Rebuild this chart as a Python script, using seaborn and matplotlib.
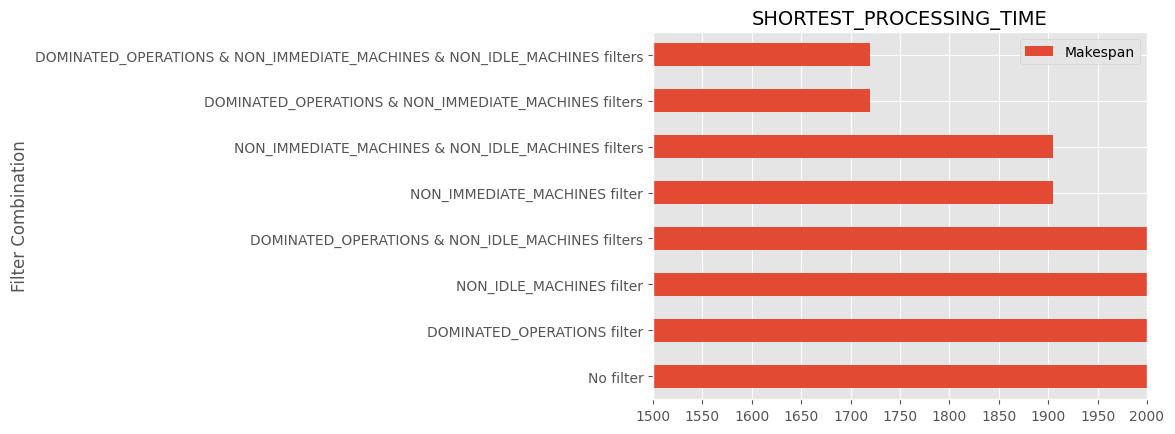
import matplotlib
matplotlib.use("Agg")
import matplotlib.pyplot as plt
import seaborn as sns
import pandas as pd

categories = [
    "DOMINATED_OPERATIONS & NON_IMMEDIATE_MACHINES & NON_IDLE_MACHINES filters",
    "DOMINATED_OPERATIONS & NON_IMMEDIATE_MACHINES filters",
    "NON_IMMEDIATE_MACHINES & NON_IDLE_MACHINES filters",
    "NON_IMMEDIATE_MACHINES filter",
    "DOMINATED_OPERATIONS & NON_IDLE_MACHINES filters",
    "NON_IDLE_MACHINES filter",
    "DOMINATED_OPERATIONS filter",
    "No filter",
]
makespan = [1720, 1720, 1905, 1905, 2050, 2050, 2050, 2050]

plt.style.use("ggplot")

df = pd.DataFrame({"Filter Combination": categories, "Makespan": makespan})

fig = plt.figure(figsize=(11.75, 4.35), dpi=100)
ax = fig.add_axes([653 / 1175, 1 - 400 / 435, (1147 - 653) / 1175, (400 - 33) / 435])

sns.barplot(data=df, x="Makespan", y="Filter Combination", orient="h",
            color="#E24A33", saturation=1, width=0.5, label="Makespan", ax=ax)
ax.set_xlim(1500, 2000)
ax.set_xticks(range(1500, 2001, 50))
ax.grid(True, axis="both", color="white")
ax.set_axisbelow(True)
ax.set_xlabel("")
ax.set_ylabel("Filter Combination", fontsize=12)
ax.set_title("SHORTEST_PROCESSING_TIME", fontsize=14)
ax.legend(loc="upper right")

fig.savefig("out.png", dpi=100)
